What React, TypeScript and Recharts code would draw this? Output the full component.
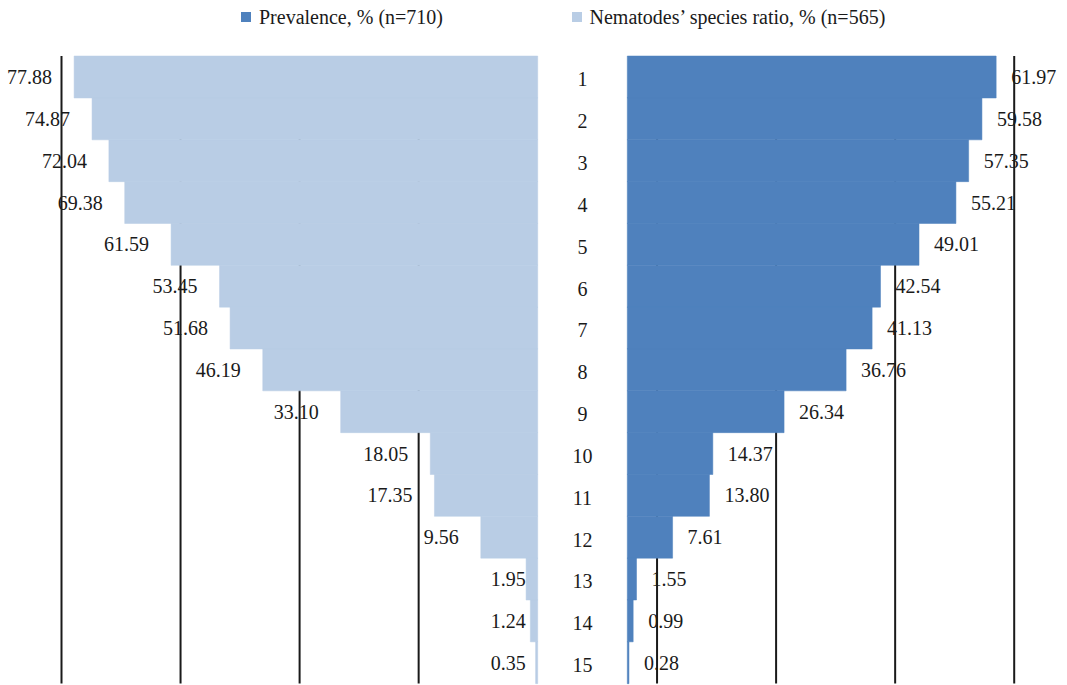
import { Bar, BarChart, CartesianGrid, LabelList, XAxis, YAxis } from "recharts";

const CATEGORIES = ["1", "2", "3", "4", "5", "6", "7", "8", "9", "10", "11", "12", "13", "14", "15"];
const SPECIES_RATIO = [77.88, 74.87, 72.04, 69.38, 61.59, 53.45, 51.68, 46.19, 33.1, 18.05, 17.35, 9.56, 1.95, 1.24, 0.35];
const PREVALENCE = [61.97, 59.58, 57.35, 55.21, 49.01, 42.54, 41.13, 36.76, 26.34, 14.37, 13.8, 7.61, 1.55, 0.99, 0.28];
const RATIO_TICKS = [20, 40, 60, 80];
const PREVALENCE_TICKS = [5, 25, 45, 65];
const LEGEND_ITEMS = [
  { name: "Prevalence, % (n=710)", color: "#4F81BD" },
  { name: "Nematodes’ species ratio, % (n=565)", color: "#B9CDE5" },
];

const FONT = "Liberation Serif, DejaVu Serif, serif";
const TEXT_COLOR = "#1a1a1a";
const GRID_COLOR = "#1a1a1a";
const CATEGORY_COLUMN = 89.6;

const rows = CATEGORIES.map((category, i) => ({
  category,
  ratio: SPECIES_RATIO[i],
  prevalence: PREVALENCE[i],
}));

function boxOf(props: any) {
  const vb = props.viewBox && typeof props.viewBox.x === "number" ? props.viewBox : props;
  const x = Number(vb.x);
  const w = Number(vb.width);
  const y = Number(vb.y);
  const h = Number(vb.height);
  return { left: Math.min(x, x + w), right: Math.max(x, x + w), cy: y + h / 2 };
}

// left side: labels sit left of the bar end, small ones are parked near the base
function LeftLabel(props: any) {
  const box = boxOf(props);
  const value = Number(props.value);
  const x = value < 5 ? box.right - 12 : box.left - 22;
  return (
    <text x={x} y={box.cy} dy="0.35em" textAnchor="end" fontFamily={FONT} fontSize={20} fill={TEXT_COLOR}>
      {value.toFixed(2)}
    </text>
  );
}

function RightLabel(props: any) {
  const box = boxOf(props);
  const value = Number(props.value);
  return (
    <text x={box.right + 15} y={box.cy} dy="0.35em" textAnchor="start" fontFamily={FONT} fontSize={20} fill={TEXT_COLOR}>
      {value.toFixed(2)}
    </text>
  );
}

function CategoryTick(props: any) {
  return (
    <text
      x={Number(props.x) + CATEGORY_COLUMN / 2}
      y={Number(props.y)}
      dy={9.5}
      textAnchor="middle"
      fontFamily={FONT}
      fontSize={20}
      fill={TEXT_COLOR}
    >
      {props.payload?.value}
    </text>
  );
}

export default function App() {
  return (
    <div style={{ position: "absolute", left: 0, top: 0, width: 1067, height: 685, background: "#fff", overflow: "hidden" }}>
      {LEGEND_ITEMS.map((item, i) => (
        <div
          key={item.name}
          style={{
            position: "absolute",
            left: i === 0 ? 241 : 571.5,
            top: 5.5,
            display: "flex",
            alignItems: "center",
            gap: 8,
            fontFamily: FONT,
            fontSize: 20,
            lineHeight: "22px",
            color: TEXT_COLOR,
            whiteSpace: "nowrap",
          }}
        >
          <span style={{ width: 10, height: 10, background: item.color, display: "inline-block" }} />
          <span>{item.name}</span>
        </div>
      ))}

      <div style={{ position: "absolute", left: 0, top: 0 }}>
        <BarChart
          width={640}
          height={685}
          data={rows}
          layout="vertical"
          barCategoryGap={0}
          margin={{ top: 56, right: 12.7, bottom: 1.5, left: 61.5 }}
        >
          <CartesianGrid horizontal={false} syncWithTicks stroke={GRID_COLOR} strokeWidth={2} />
          <XAxis type="number" domain={[0, 80]} ticks={RATIO_TICKS} reversed hide />
          <YAxis
            type="category"
            dataKey="category"
            orientation="right"
            width={CATEGORY_COLUMN}
            axisLine={false}
            tickLine={false}
            tickSize={0}
            tickMargin={0}
            interval={0}
            tick={CategoryTick}
          />
          <Bar dataKey="ratio" fill="#B9CDE5" stroke="#B9CDE5" strokeWidth={0.5} isAnimationActive={false}>
            <LabelList dataKey="ratio" content={LeftLabel} />
          </Bar>
        </BarChart>
      </div>

      <div style={{ position: "absolute", left: 530, top: 0 }}>
        <BarChart
          width={537}
          height={685}
          data={rows}
          layout="vertical"
          barCategoryGap={0}
          margin={{ top: 56, right: 52.8, bottom: 1.5, left: 8 }}
        >
          <CartesianGrid horizontal={false} syncWithTicks stroke={GRID_COLOR} strokeWidth={2} />
          <XAxis type="number" domain={[-15, 65]} ticks={PREVALENCE_TICKS} allowDataOverflow hide />
          <YAxis type="category" dataKey="category" hide />
          <Bar dataKey="prevalence" fill="#4F81BD" stroke="#4F81BD" strokeWidth={0.5} isAnimationActive={false}>
            <LabelList dataKey="prevalence" content={RightLabel} />
          </Bar>
        </BarChart>
      </div>
    </div>
  );
}
